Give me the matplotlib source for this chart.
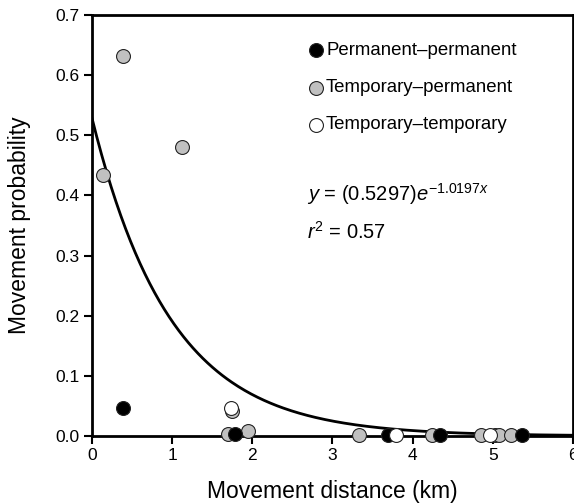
import numpy as np
import matplotlib
matplotlib.use('Agg')
import matplotlib.pyplot as plt

plt.rcParams['font.family'] = ['Liberation Sans', 'DejaVu Sans']
plt.rcParams['mathtext.fontset'] = 'custom'
plt.rcParams['mathtext.rm'] = 'Liberation Sans'
plt.rcParams['mathtext.it'] = 'Liberation Sans:italic'

# permanent-permanent
pp_x = [0.39, 1.79, 3.70, 4.34, 5.37]
pp_y = [0.047, 0.003, 0.001, 0.001, 0.001]
# temporary-permanent
tp_x = [0.14, 0.39, 1.13, 1.70, 1.75, 1.95, 3.33, 4.24, 4.85, 5.03, 5.08, 5.23]
tp_y = [0.434, 0.632, 0.481, 0.004, 0.042, 0.009, 0.002, 0.002, 0.001, 0.001, 0.001, 0.001]
# temporary-temporary
tt_x = [1.73, 3.79, 4.97]
tt_y = [0.047, 0.001, 0.001]

a = 0.5297
b = 1.0197

fig = plt.figure(figsize=(5.74, 5.04), dpi=100)
ax = fig.add_axes([0.160, 0.135, 0.838, 0.835])

xs = np.linspace(0, 6, 300)
ax.plot(xs, a * np.exp(-b * xs), color='black', lw=2, zorder=2)

kw = dict(s=100, edgecolors='#222222', linewidths=0.8, zorder=3, clip_on=False)
ax.scatter(tp_x, tp_y, c='#c0c0c0', **kw)
ax.scatter(pp_x, pp_y, c='black', **kw)
ax.scatter(tt_x, tt_y, c='white', **kw)

ax.set_xlim(0, 6)
ax.set_ylim(0, 0.7)
ax.set_xticks(range(7))
ax.set_yticks(np.arange(0, 0.71, 0.1))
ax.set_yticklabels(['%.1f' % v for v in np.arange(0, 0.71, 0.1)])
ax.tick_params(direction='out', length=6, width=1.5, labelsize=12.5, pad=3)
for s in ax.spines.values():
    s.set_linewidth(2)

ax.set_xlabel('Movement distance (km)', fontsize=16.5, labelpad=12)
ax.set_ylabel('Movement probability', fontsize=16.5, labelpad=17)

# legend drawn by hand
labels = ['Permanent–permanent', 'Temporary–permanent', 'Temporary–temporary']
colors = ['black', '#c0c0c0', 'white']
for i, (lab, col) in enumerate(zip(labels, colors)):
    yy = 0.916 - i * 0.088
    ax.scatter([0.465], [yy], s=100, c=col, edgecolors='#222222', linewidths=0.8,
               transform=ax.transAxes)
    ax.text(0.487, yy, lab, transform=ax.transAxes, fontsize=13.4, va='center')

ax.text(0.448, 0.575, r'$y$ = (0.5297)$e^{-1.0197x}$', transform=ax.transAxes,
        fontsize=14.5, va='center')
ax.text(0.448, 0.486, r'$r^2$ = 0.57', transform=ax.transAxes,
        fontsize=14.5, va='center')

fig.savefig('out.png', dpi=100)
